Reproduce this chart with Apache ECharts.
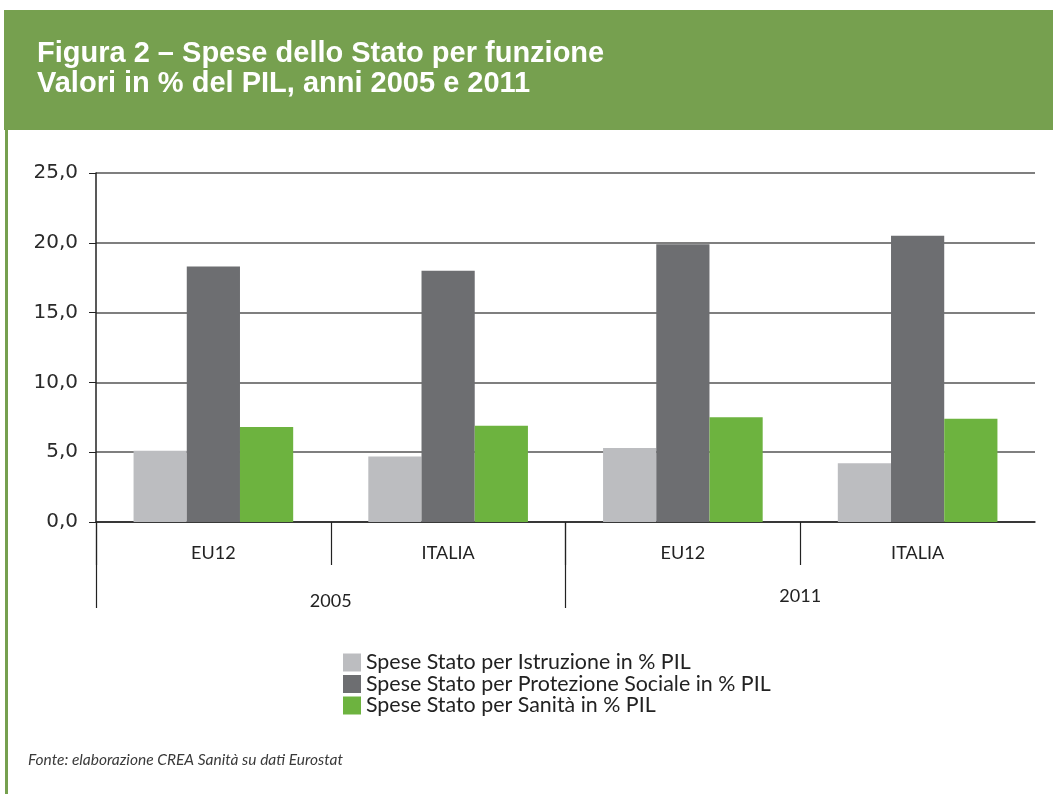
<!DOCTYPE html>
<html>
<head>
<meta charset="utf-8">
<script src="https://cdn.jsdelivr.net/npm/echarts@6/dist/echarts.min.js"></script>
<style>
  html, body { margin: 0; padding: 0; background: #fff; }
  #chart { width: 1053px; height: 794px; }
</style>
</head>
<body>
<div id="chart"></div>
<script>
  const categories = ["EU12", "ITALIA", "EU12", "ITALIA"];
  const years = ["2005", "2011"];
  const istruzione = [5.1, 4.7, 5.3, 4.2];
  const protezione = [18.3, 18.0, 19.9, 20.5];
  const sanita = [6.8, 6.9, 7.5, 7.4];
  const seriesNames = [
    "Spese Stato per Istruzione in % PIL",
    "Spese Stato per Protezione Sociale in % PIL",
    "Spese Stato per Sanità in % PIL",
  ];

  const GREEN_HEAD = "#76a04f";
  const FONT = "Lato, 'Open Sans', sans-serif";

  // plot area: x 96..1035, y 173..522
  const W = 1053, LEFT = 96, RIGHT = 18, TOP = 173, BOTTOM = 272;
  const plotW = W - LEFT - RIGHT;
  const band = plotW / categories.length;

  const chart = echarts.init(document.getElementById("chart"), null, { renderer: "canvas" });

  const hiddenY = (gi) => ({ type: "value", gridIndex: gi, show: false, min: 0, max: 25 });

  const option = {
    animation: false,
    backgroundColor: "#fff",
    title: {
      text: "Figura 2 – Spese dello Stato per funzione\nValori in % del PIL, anni 2005 e 2011",
      left: 37,
      top: 39,
      padding: 0,
      textStyle: {
        color: "#fff",
        fontFamily: "'Liberation Sans', Arial, sans-serif",
        fontWeight: "bold",
        fontSize: 29,
        lineHeight: 30,
      },
    },
    graphic: [
      { type: "rect", left: 4, top: 10, shape: { width: 1049, height: 120 }, style: { fill: GREEN_HEAD }, z: -1 },
      { type: "rect", left: 5, top: 130, shape: { width: 3, height: 664 }, style: { fill: GREEN_HEAD }, z: -1 },
      {
        type: "text",
        left: 28,
        top: 752,
        style: {
          text: "Fonte: elaborazione CREA Sanità su dati Eurostat",
          fill: "#3a3a3a",
          font: "italic 15.5px " + FONT,
        },
      },
    ],
    legend: {
      orient: "vertical",
      left: 338,
      top: 647,
      itemWidth: 18,
      itemHeight: 18,
      itemGap: 0.5,
      icon: "rect",
      textStyle: { fontFamily: FONT, fontSize: 21.4, lineHeight: 18, color: "#222" },
      data: seriesNames,
    },
    grid: [
      { left: LEFT, right: RIGHT, top: TOP, bottom: BOTTOM },
      // separators between countries
      { left: LEFT, right: W - LEFT - band * 3, top: TOP, bottom: BOTTOM },
      // year 2005
      { left: LEFT, right: W - LEFT - band * 2, top: TOP, bottom: BOTTOM },
      // year 2011
      { left: LEFT + band * 2, right: RIGHT, top: TOP, bottom: BOTTOM },
    ],
    xAxis: [
      {
        type: "category",
        gridIndex: 0,
        data: categories,
        axisLine: { lineStyle: { color: "#222", width: 1.5 } },
        axisTick: { show: false },
        axisLabel: { color: "#222", fontFamily: FONT, fontSize: 18, margin: 22 },
      },
      {
        type: "category",
        gridIndex: 1,
        data: ["", "", ""],
        axisLine: { show: false },
        axisTick: { show: true, length: 43, lineStyle: { color: "#222", width: 1.2 } },
        axisLabel: { show: false },
      },
      {
        type: "category",
        gridIndex: 2,
        data: [years[0]],
        axisLine: { show: false },
        axisTick: { show: true, length: 86, lineStyle: { color: "#222", width: 1.2 } },
        axisLabel: { color: "#222", fontFamily: FONT, fontSize: 18, margin: 70 },
      },
      {
        type: "category",
        gridIndex: 3,
        data: [years[1]],
        axisLine: { show: false },
        axisTick: { show: false },
        axisLabel: { color: "#222", fontFamily: FONT, fontSize: 18, margin: 65 },
      },
    ],
    yAxis: [
      {
        type: "value",
        gridIndex: 0,
        min: 0,
        max: 25,
        interval: 5,
        axisLine: { show: true, lineStyle: { color: "#222", width: 1.5 } },
        axisTick: { show: true, length: 7, lineStyle: { color: "#222" } },
        axisLabel: {
          color: "#2a2a2a",
          fontFamily: "'DejaVu Sans', sans-serif",
          fontSize: 20,
          margin: 18,
          formatter: (v) => v.toFixed(1).replace(".", ","),
        },
        splitLine: { lineStyle: { color: "#555", width: 1.5 } },
      },
      hiddenY(1),
      hiddenY(2),
      hiddenY(3),
    ],
    series: [
      {
        name: seriesNames[0],
        type: "bar",
        data: istruzione,
        itemStyle: { color: "#bcbdc0" },
        barGap: "0%",
        barCategoryGap: "32%",
      },
      {
        name: seriesNames[1],
        type: "bar",
        data: protezione,
        itemStyle: { color: "#6d6e71" },
      },
      {
        name: seriesNames[2],
        type: "bar",
        data: sanita,
        itemStyle: { color: "#6db33f" },
      },
    ],
  };

  chart.setOption(option);
</script>
</body>
</html>
